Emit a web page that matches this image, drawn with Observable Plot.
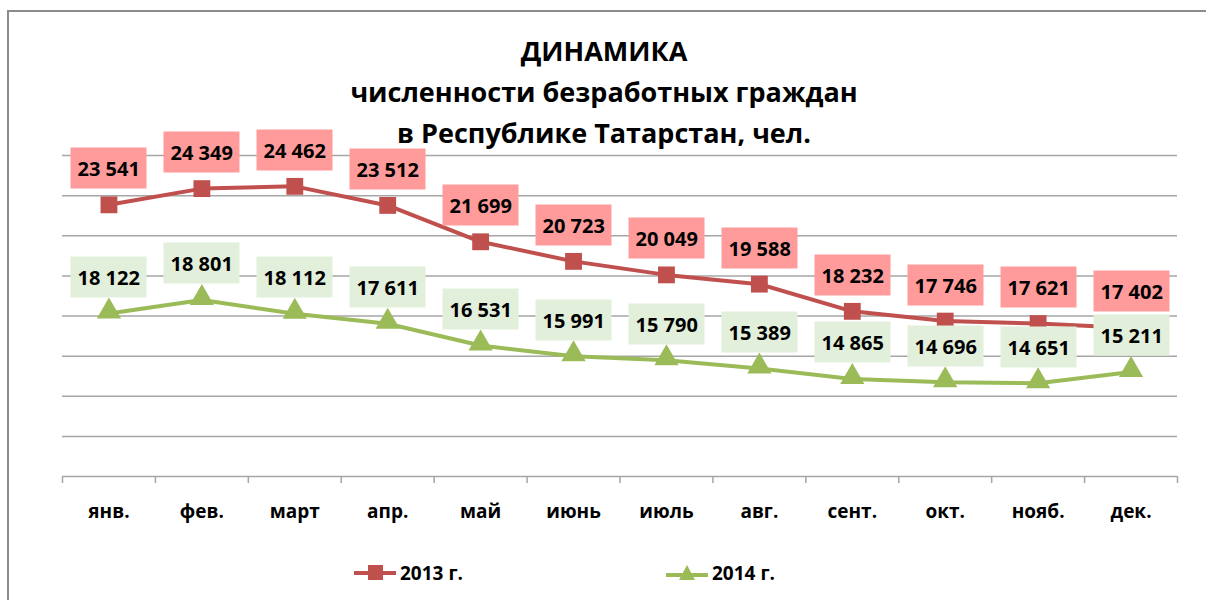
<!DOCTYPE html>
<html>
<head>
<meta charset="utf-8">
<script src="https://cdn.jsdelivr.net/npm/d3@7"></script>
<script src="https://cdn.jsdelivr.net/npm/@observablehq/plot@0.6"></script>
<style>
  html, body { margin: 0; padding: 0; background: #fff; }
  #wrap { position: relative; width: 1206px; height: 600px; overflow: hidden; font-family: "Open Sans", sans-serif; }
  #frame { position: absolute; left: 7px; top: 10px; width: 1220px; height: 620px; border: 2px solid #8c8c8c; box-sizing: border-box; }
  #title { position: absolute; left: 254px; width: 700px; top: 30px; text-align: center; font-weight: 700; font-size: 27px; line-height: 41px; color: #000; }
  #chart { position: absolute; left: 0; top: 100px; }
  .leg { position: absolute; top: 560px; font-weight: 700; font-size: 19px; color: #000; display: flex; align-items: center; }
  .leg svg { margin-right: 3px; }
</style>
</head>
<body>
<div id="wrap">
  <div id="frame"></div>
  <div id="chart"></div>
  <div id="title">ДИНАМИКА<br>численности безработных граждан<br>в Республике Татарстан, чел.</div>
  <div class="leg" style="left:353px;">
    <svg width="44" height="24"><line x1="1" y1="12" x2="43" y2="12" stroke="#c0504d" stroke-width="4"/><rect x="15" y="4" width="15" height="15" fill="#c0504d"/></svg>2013 г.
  </div>
  <div class="leg" style="left:665px;">
    <svg width="44" height="24"><line x1="1" y1="14" x2="43" y2="14" stroke="#9bbb59" stroke-width="4"/><path d="M22 4 L30 19 L14 19 Z" fill="#9bbb59"/></svg>2014 г.
  </div>
</div>
<script>
const months = ["янв.", "фев.", "март", "апр.", "май", "июнь", "июль", "авг.", "сент.", "окт.", "нояб.", "дек."];
const values2013 = [23541, 24349, 24462, 23512, 21699, 20723, 20049, 19588, 18232, 17746, 17621, 17402];
const values2014 = [18122, 18801, 18112, 17611, 16531, 15991, 15790, 15389, 14865, 14696, 14651, 15211];
const gridValues = [12000, 14000, 16000, 18000, 20000, 22000, 24000, 26000];

const s2013 = values2013.map((v, i) => ({i: i + 0.5, month: months[i], value: v}));
const s2014 = values2014.map((v, i) => ({i: i + 0.5, month: months[i], value: v}));
const fmt = v => d3.format(",")(v).replace(/,/g, " ");

const labelOpts = (fill) => ({
  x: "i", y: "value", title: d => fmt(d.value),
  anchor: "bottom", pointerSize: 0, dy: -16,
  fill, stroke: "none", pathFilter: null,
  fontSize: 20, fontWeight: 700, fontFamily: "Open Sans", textPadding: 7
});

const chart = Plot.plot({
  width: 1206,
  height: 430,
  marginLeft: 62,
  marginRight: 29,
  marginTop: 55,
  marginBottom: 54,
  style: {background: "transparent", fontFamily: "Open Sans", color: "#000"},
  x: {domain: [0, 12], axis: null, label: null},
  y: {domain: [10000, 26000], axis: null, label: null},
  marks: [
    Plot.gridY(gridValues, {stroke: "#a6a6a6", strokeOpacity: 1, strokeWidth: 1.5}),
    Plot.ruleY([10000], {stroke: "#a6a6a6", strokeWidth: 1.5}),
    Plot.axisX({ticks: d3.range(13), tickSize: 7, tickFormat: () => "", label: null, stroke: "#a6a6a6", strokeWidth: 1.5}),
    Plot.axisX({ticks: d3.range(12).map(i => i + 0.5), tickSize: 0, tickPadding: 28, label: null, tickFormat: t => months[Math.floor(t)], fontSize: 19, fontWeight: 700, fill: "#000"}),
    Plot.line(s2013, {x: "i", y: "value", stroke: "#c0504d", strokeWidth: 4}),
    Plot.line(s2014, {x: "i", y: "value", stroke: "#9bbb59", strokeWidth: 4}),
    Plot.dot(s2013, {x: "i", y: "value", symbol: "square", r: 9.5, fill: "#c0504d"}),
    Plot.dot(s2014, {x: "i", y: "value", symbol: "triangle", r: 9, fill: "#9bbb59", dy: -2}),
    Plot.tip(s2013, labelOpts("#ff9b9b")),
    Plot.tip(s2014, labelOpts("#e2efda"))
  ]
});
document.getElementById("chart").appendChild(chart);
</script>
</body>
</html>
